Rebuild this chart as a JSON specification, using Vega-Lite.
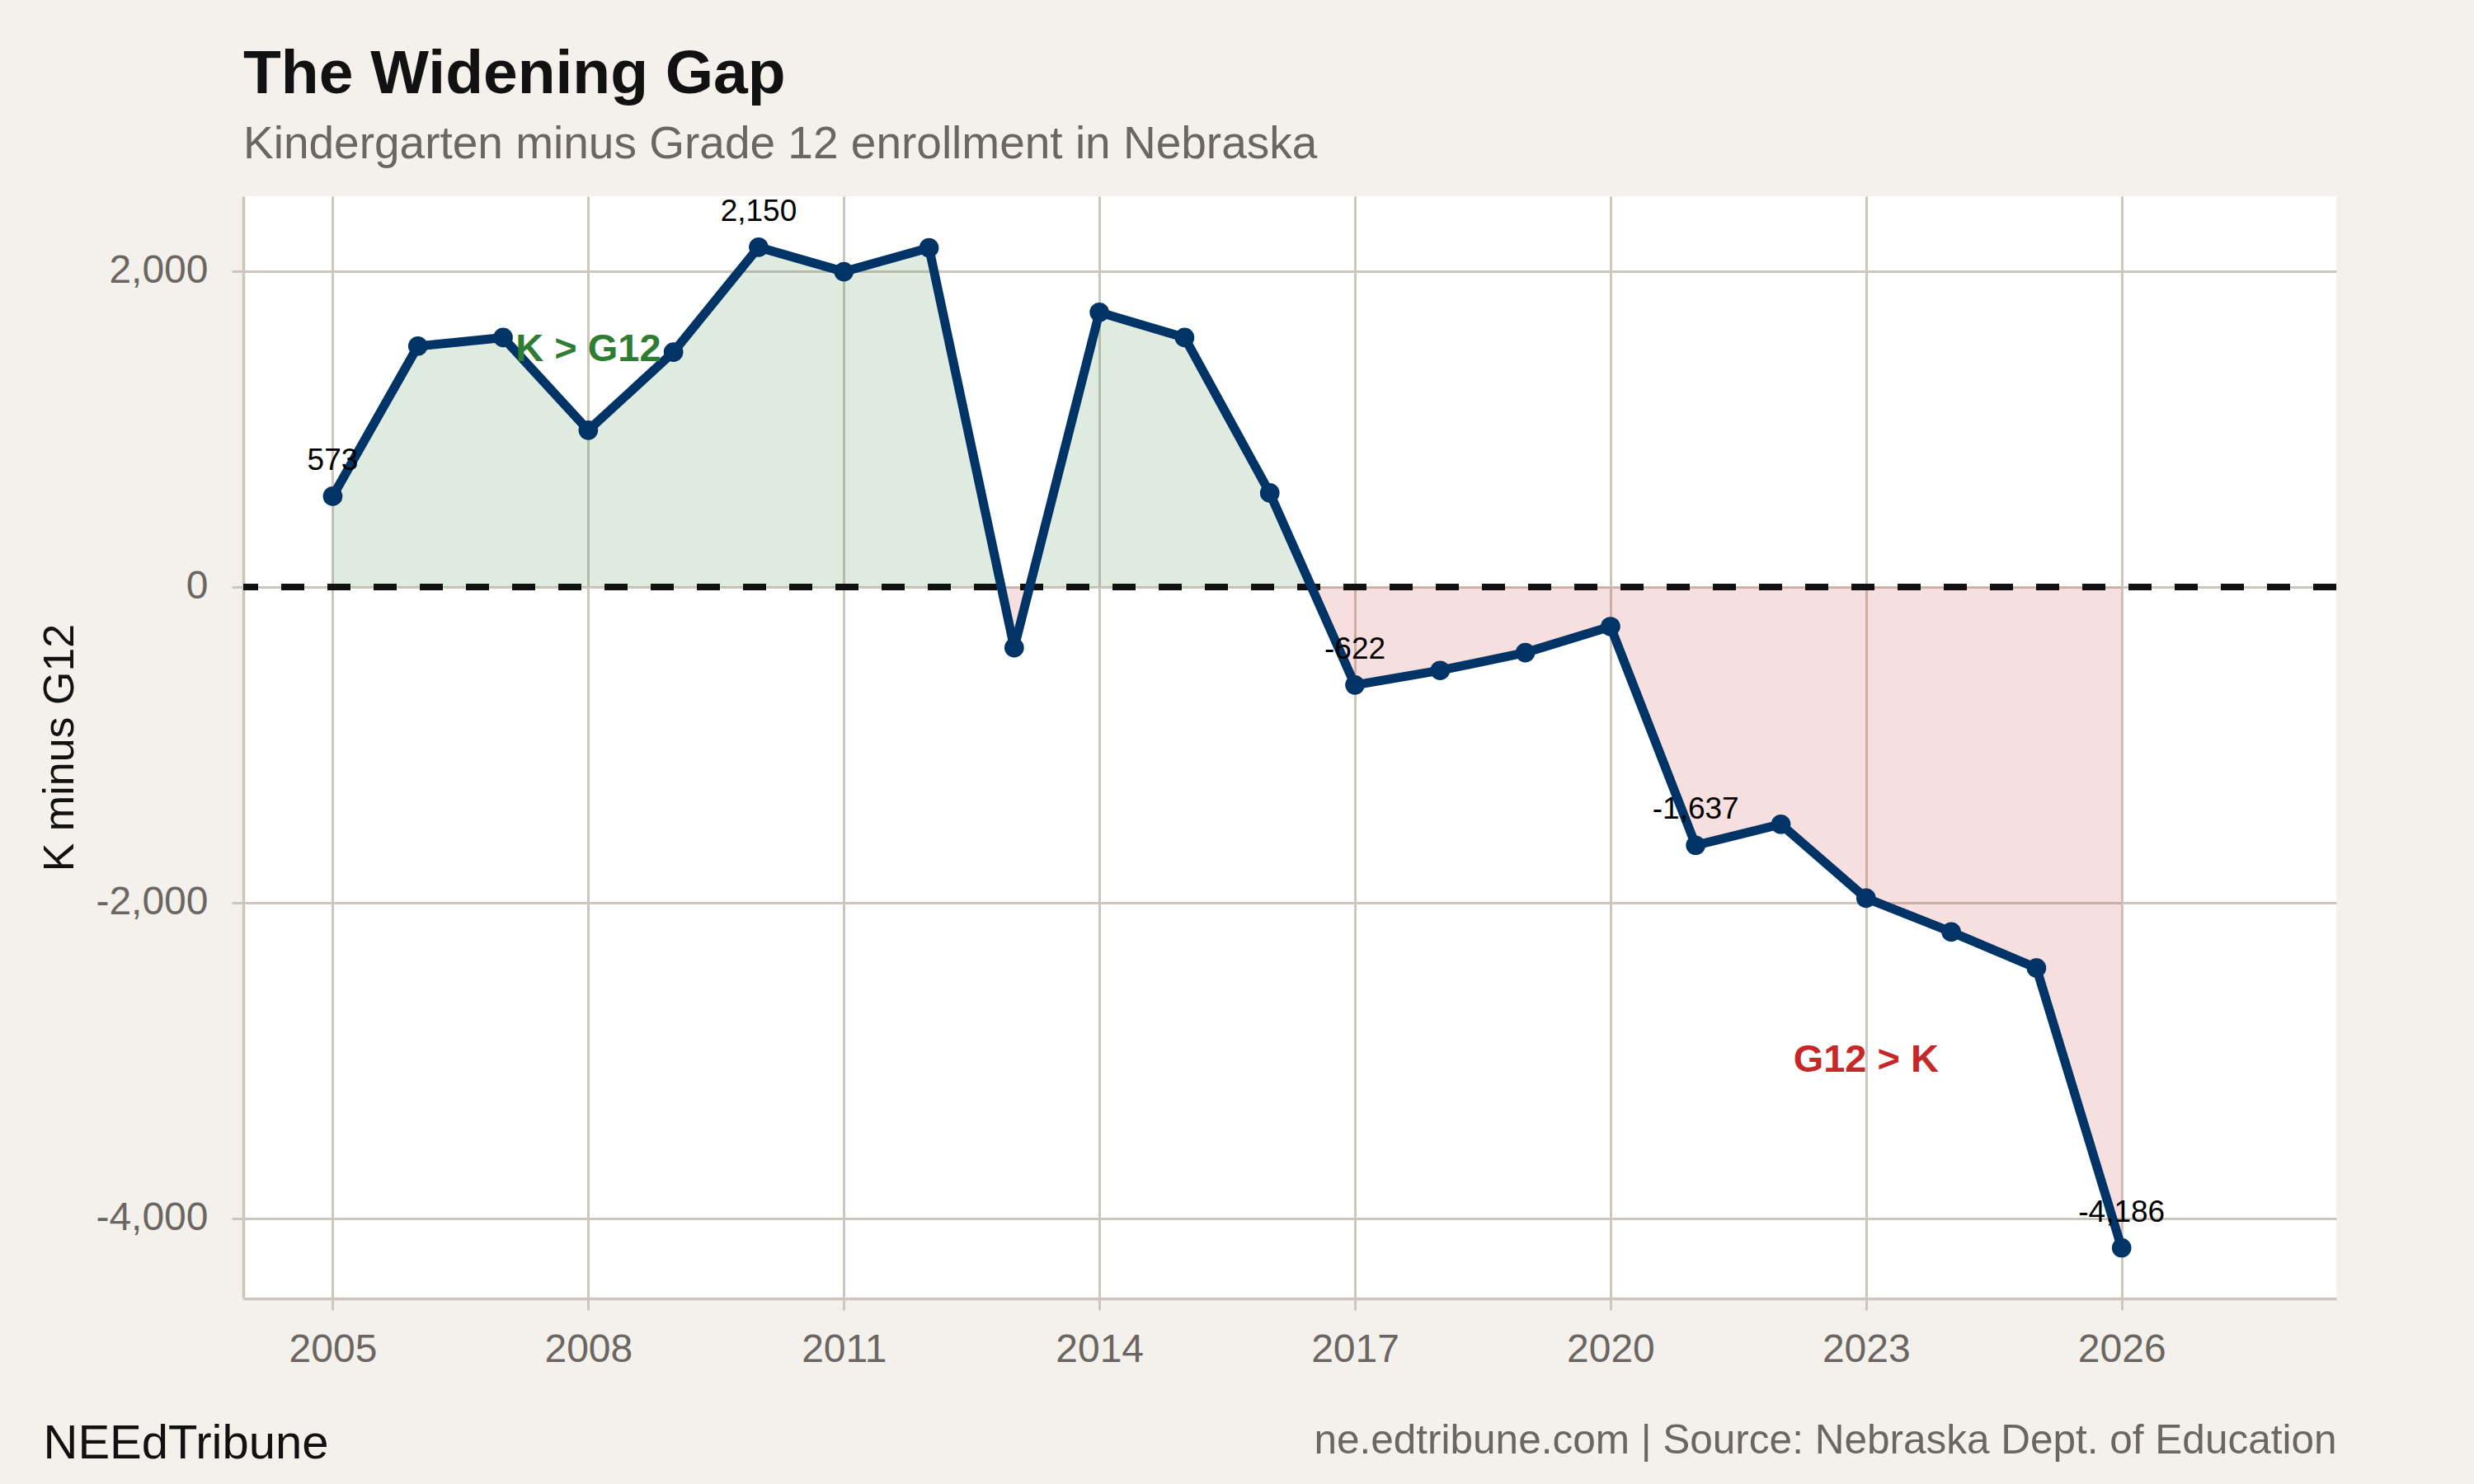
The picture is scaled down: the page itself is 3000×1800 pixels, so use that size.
{
  "$schema": "https://vega.github.io/schema/vega-lite/v6.json",
  "description": "Kindergarten minus Grade 12 enrollment in Nebraska, 2005-2026.",
  "width": 2538,
  "height": 1337,
  "autosize": {"type": "none"},
  "padding": {"left": 295, "top": 238, "right": 167, "bottom": 225},
  "background": "#f4f1ec",
  "config": {
    "font": "Liberation Sans",
    "view": {"fill": "white", "stroke": null},
    "locale": {
      "number": {
        "decimal": ".",
        "thousands": ",",
        "grouping": [3],
        "currency": ["$", ""],
        "minus": "-"
      }
    }
  },
  "title": {
    "text": "The Widening Gap",
    "subtitle": "Kindergarten minus Grade 12 enrollment in Nebraska",
    "anchor": "start",
    "frame": "group",
    "fontSize": 75,
    "fontWeight": "bold",
    "color": "#111111",
    "subtitleFontSize": 55,
    "subtitleColor": "#6b6661",
    "subtitlePadding": 20,
    "offset": 34
  },
  "datasets": {
    "gap": [
      {"year": 2005, "value": 573},
      {"year": 2006, "value": 1524},
      {"year": 2007, "value": 1578},
      {"year": 2008, "value": 991},
      {"year": 2009, "value": 1486},
      {"year": 2010, "value": 2150},
      {"year": 2011, "value": 1995},
      {"year": 2012, "value": 2146},
      {"year": 2013, "value": -386},
      {"year": 2014, "value": 1738},
      {"year": 2015, "value": 1578},
      {"year": 2016, "value": 594},
      {"year": 2017, "value": -622},
      {"year": 2018, "value": -530},
      {"year": 2019, "value": -417},
      {"year": 2020, "value": -252},
      {"year": 2021, "value": -1637},
      {"year": 2022, "value": -1504},
      {"year": 2023, "value": -1972},
      {"year": 2024, "value": -2186},
      {"year": 2025, "value": -2414},
      {"year": 2026, "value": -4186}
    ],
    "notes": [
      {"year": 2008, "value": 1500, "label": "K > G12"},
      {"year": 2023, "value": -3000, "label": "G12 > K"}
    ]
  },
  "resolve": {"scale": {"y": "independent"}, "axis": {"y": "independent"}},
  "layer": [
    {
      "data": {"name": "gap"},
      "encoding": {
        "x": {
          "field": "year",
          "type": "quantitative",
          "scale": {"domain": [2003.95, 2028.52], "nice": false, "zero": false},
          "axis": {
            "values": [2005, 2008, 2011, 2014, 2017, 2020, 2023, 2026],
            "format": "d",
            "grid": true,
            "gridColor": "#cdc6bc",
            "gridWidth": 3,
            "domainColor": "#cdc6bc",
            "domainWidth": 3.5,
            "tickColor": "#cdc6bc",
            "tickWidth": 3,
            "tickSize": 14,
            "labelFontSize": 48,
            "labelColor": "#6b6661",
            "labelPadding": 24,
            "labelFlush": false,
            "title": "NEEdTribune",
            "titleFontSize": 58,
            "titleFontWeight": "normal",
            "titleColor": "#111111",
            "titleX": -243,
            "titleY": 193,
            "titleAlign": "left",
            "titleBaseline": "alphabetic"
          }
        },
        "y": {
          "field": "value",
          "type": "quantitative",
          "scale": {"domain": [-4507, 2473], "nice": false, "zero": false},
          "axis": {
            "values": [-4000, -2000, 0, 2000],
            "format": ",d",
            "grid": true,
            "gridColor": "#cdc6bc",
            "gridWidth": 3,
            "domainColor": "#cdc6bc",
            "domainWidth": 3.5,
            "tickColor": "#cdc6bc",
            "tickWidth": 3,
            "tickSize": 14,
            "labelFontSize": 48,
            "labelColor": "#6b6661",
            "labelPadding": 29,
            "title": "K minus G12",
            "titleFontSize": 52,
            "titleFontWeight": "normal",
            "titleColor": "#111111",
            "titleAngle": 270,
            "titleX": -207,
            "titleY": 668.5,
            "titleAlign": "center",
            "titleBaseline": "alphabetic"
          }
        }
      },
      "layer": [
        {
          "mark": {
            "type": "area",
            "fillOpacity": 0.15,
            "color": {
              "gradient": "linear",
              "x1": 0, "y1": 0, "x2": 0, "y2": 1,
              "stops": [
                {"offset": 0, "color": "#2e7d32"},
                {"offset": 0.3393, "color": "#2e7d32"},
                {"offset": 0.3393, "color": "#c62828"},
                {"offset": 1, "color": "#c62828"}
              ]
            }
          },
          "encoding": {"y2": {"datum": 0}}
        },
        {
          "mark": {"type": "rule", "color": "#111111", "strokeWidth": 7.5, "strokeDash": [28, 28]},
          "encoding": {"y": {"datum": 0}, "x": null}
        },
        {
          "mark": {"type": "line", "color": "#003366", "strokeWidth": 11}
        },
        {
          "mark": {"type": "point", "filled": true, "opacity": 1, "color": "#003366", "size": 560}
        },
        {
          "transform": [{"filter": "indexof([2005, 2010, 2017, 2021, 2026], datum.year) >= 0"}],
          "mark": {"type": "text", "fontSize": 37, "color": "#000000", "baseline": "alphabetic", "align": "center", "dy": -32},
          "encoding": {"text": {"field": "value", "type": "quantitative", "format": ",d"}}
        }
      ]
    },
    {
      "data": {"name": "notes"},
      "mark": {"type": "text", "fontSize": 47, "fontWeight": "bold", "align": "center", "baseline": "middle"},
      "encoding": {
        "x": {"field": "year", "type": "quantitative"},
        "y": {
          "field": "value",
          "type": "quantitative",
          "scale": {"domain": [-4507, 2473], "nice": false, "zero": false},
          "axis": {
            "orient": "right",
            "labels": false,
            "ticks": false,
            "domain": false,
            "grid": false,
            "title": "ne.edtribune.com | Source: Nebraska Dept. of Education",
            "titleFontSize": 49.5,
            "titleFontWeight": "normal",
            "titleColor": "#6b6661",
            "titleAngle": 0,
            "titleX": 0,
            "titleY": 1524,
            "titleAlign": "right",
            "titleBaseline": "alphabetic"
          }
        },
        "text": {"field": "label"},
        "color": {
          "field": "label",
          "type": "nominal",
          "scale": {"domain": ["K > G12", "G12 > K"], "range": ["#2e7d32", "#c62828"]},
          "legend": null
        }
      }
    }
  ]
}
